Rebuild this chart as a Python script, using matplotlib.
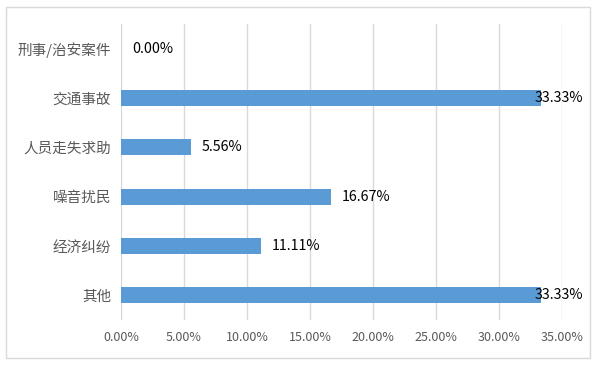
import matplotlib
matplotlib.use("Agg")
import matplotlib.pyplot as plt
from matplotlib.patches import Rectangle
from matplotlib.ticker import FuncFormatter

plt.rcParams['font.family'] = ['Noto Sans CJK SC', 'DejaVu Sans']

# 数据
categories = ["刑事/治安案件", "交通事故", "人员走失求助", "噪音扰民", "经济纠纷", "其他"]
values = [0.00, 33.33, 5.56, 16.67, 11.11, 33.33]
xticks = [0, 5, 10, 15, 20, 25, 30, 35]

fig = plt.figure(figsize=(5.96, 3.66), dpi=100)
ax = fig.add_axes([121 / 596, 1 - 320 / 366, (561.7 - 121) / 596, (320 - 24) / 366])

# 外边框
fig.patches.append(Rectangle((6 / 596, 1 - 358 / 366), 584 / 596, 351 / 366,
                             transform=fig.transFigure, fill=False,
                             edgecolor="#D9D9D9", linewidth=1))

pos = list(range(len(categories)))
ax.barh(pos, values, height=0.33, color="#5B9BD5", zorder=3)

# 数据标签
for p, v in zip(pos, values):
    if v > 33:
        off = -6
    else:
        off = 11
    ax.annotate(f"{v:.2f}%", (v, p), xytext=(off, 0), textcoords="offset pixels",
                va="center", ha="left", fontsize=10.3, color="#000000", zorder=4)

ax.set_yticks(pos)
ax.set_yticklabels(categories, fontsize=10.5, color="#595959")
ax.set_ylim(len(categories) - 0.5, -0.5)
ax.set_xlim(0, 35)
ax.set_xticks(xticks)
ax.xaxis.set_major_formatter(FuncFormatter(lambda x, _: f"{x:.2f}%"))
for t in ax.get_xticklabels():
    t.set_fontsize(9)
    t.set_color("#595959")

ax.tick_params(axis="both", length=0)
ax.tick_params(axis="x", pad=8)
ax.tick_params(axis="y", pad=7)
ax.grid(axis="x", color="#D9D9D9", linewidth=1, zorder=0)
for s in ax.spines.values():
    s.set_visible(False)

fig.savefig("out.png", dpi=100)
